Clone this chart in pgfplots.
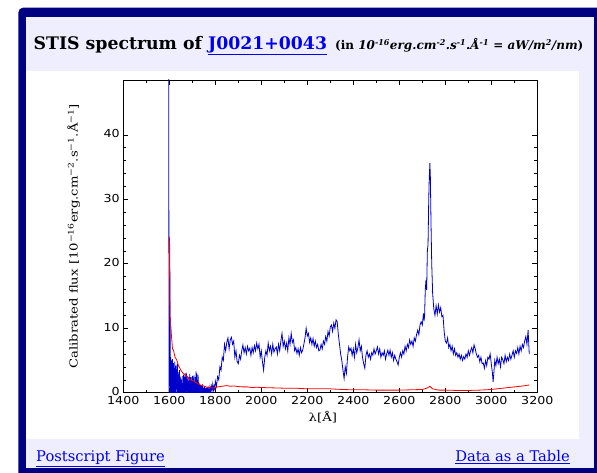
\documentclass[border=0pt]{standalone}
\usepackage{pgfplots}
\pgfplotsset{compat=1.18}
\usepackage{fontspec}
\setmainfont{DejaVu Serif}
\newfontfamily\tickfont[FakeStretch=1.15]{DejaVu Sans}
\newfontfamily\labfont[FakeStretch=1.2]{DejaVu Serif}
\definecolor{navy}{HTML}{000080}
\definecolor{lav}{HTML}{EEEEFF}
\definecolor{linkblue}{HTML}{0000EE}
\definecolor{specblue}{HTML}{0000CC}

\begin{document}
\begin{tikzpicture}
% page and frame (y measured from the bottom of the 597x472 picture)
\useasboundingbox (0pt,0pt) rectangle (597pt,472pt);
\clip (0pt,0pt) rectangle (597pt,472pt);
\fill[white] (0pt,0pt) rectangle (597pt,472pt);
\fill[navy, rounded corners=5pt] (18.3pt,-10pt) rectangle (620pt,464.4pt);
\fill[lav] (26pt,3.7pt) rectangle (594pt,455pt);
\fill[white] (26pt,33.5pt) rectangle (579pt,401pt);

% header
\node[anchor=base west, inner sep=0pt] at (33.5pt,422.5pt)
  {\fontsize{17.3}{17}\selectfont\bfseries STIS spectrum of \textcolor{linkblue}{\underline{J0021+0043}}};
\node[anchor=base west, inner sep=0pt] at (335pt,422.5pt)
  {\fontsize{12}{12}\selectfont\bfseries (in \textit{10\textsuperscript{-16}erg.cm\textsuperscript{-2}.s\textsuperscript{-1}.Å\textsuperscript{-1} = aW/m\textsuperscript{2}/nm})};

% footer links
\node[anchor=base west, inner sep=0pt, text=linkblue] at (36pt,10.5pt)
  {\fontsize{14.7}{15}\selectfont\underline{Postscript Figure}};
\node[anchor=base east, inner sep=0pt, text=linkblue] at (570pt,10.5pt)
  {\fontsize{14.7}{15}\selectfont\underline{Data as a Table}};

\begin{axis}[
    at={(123.3pt,79.3pt)}, anchor=south west,
    scale only axis, width=414pt, height=312.7pt,
    xmin=1400, xmax=3200, ymin=0, ymax=48.5,
    xtick={1400,1600,...,3200}, minor x tick num=1,
    ytick={0,10,...,40}, minor y tick num=4,
    xtick pos=both, ytick pos=both, tick align=inside,
    major tick length=5pt, minor tick length=3pt,
    axis line style={black, line width=0.8pt},
    every tick/.style={black, line width=0.6pt},
    /pgf/number format/1000 sep={},
    /pgf/number format/assume math mode=true,
    tick label style={font=\tickfont\fontsize{11}{11}\selectfont},
    xticklabel style={yshift=0pt},
    yticklabel style={yshift=1pt},
    ylabel={Calibrated flux [10\textsuperscript{−16}erg.cm\textsuperscript{−2}.s\textsuperscript{−1}.Å\textsuperscript{−1}]},
    ylabel style={at={(axis description cs:-0.12,0.5)}, anchor=center,
      font=\labfont\fontsize{11}{11}\selectfont},
    xlabel={λ[Å]},
    xlabel style={at={(axis description cs:0.482,-0.078)}, anchor=center,
      font=\labfont\fontsize{11}{11}\selectfont},
]
% flux (blue)
\addplot[specblue, line width=0.8pt] coordinates {
 (1597,60) (1599,-1) (1601,24) (1602,21) (1603,15) (1604,8) (1605,-1) (1606,5.5)
 (1607,0) (1608,4.5) (1609,-2) (1610,5) (1611,1) (1612,4.8) (1613,-1) (1614,5.2)
 (1615,0) (1616,4) (1617,-2) (1618,4.6) (1620,0.5) (1621,3.8) (1622,-1) (1624,4.8)
 (1625,0) (1626,3.5) (1628,-2) (1629,4.2) (1631,0.5) (1632,3.6) (1634,-1) (1635,4.5)
 (1637,0) (1638,3.2) (1640,-2) (1641,2.8) (1643,0) (1644,3.5) (1646,-1) (1647,2.5)
 (1649,-2) (1650,2.2) (1652,0) (1653,1.8) (1655,-1) (1656,2.6) (1658,-2) (1659,1.5)
 (1661,0) (1662,2.8) (1664,-1) (1665,2.2) (1667,0) (1668,3.0) (1670,-1) (1671,2.5)
 (1673,0.2) (1674,3.1) (1676,-1) (1677,2.0) (1679,0) (1680,2.6) (1682,-1) (1683,1.8)
 (1685,0.3) (1686,2.4) (1688,-1) (1689,2.9) (1691,0) (1692,1.7) (1694,-1) (1695,2.4)
 (1697,0) (1698,1.9) (1700,-1) (1701,2.6) (1703,0) (1704,1.8) (1706,-1) (1707,2.7)
 (1709,0.2) (1710,1.6) (1712,-1) (1713,2.4) (1715,0) (1716,3.3) (1718,-0.5) (1719,3.0)
 (1721,0) (1722,2.0) (1724,-1) (1725,2.8) (1727,0) (1728,1.6) (1730,-0.5) (1732,1.4)
 (1734,0) (1736,1.2) (1738,-0.5) (1740,1.0) (1742,0) (1744,1.3) (1746,-0.5) (1748,0.8)
 (1750,0) (1753,1.0) (1756,-1) (1759,0.8) (1762,-0.5) (1765,0.9) (1768,0) (1771,0.6)
 (1774,-0.5) (1777,0.9) (1780,0.2) (1783,1.0) (1786,0.3) (1789,1.3) (1792,0.4) (1795,1.0)
 (1798,0.5) (1800,1.8) (1805,1.0) (1810,2.5) (1815,2) (1820,4) (1825,3.5) (1830,5.5)
 (1835,5) (1840,7.5) (1845,6.5) (1850,7.8) (1855,8.5) (1860,6.8) (1865,8.2) (1870,8.6)
 (1875,7.5) (1880,8.0) (1885,5.5) (1890,6.5) (1895,4.8) (1900,4.5) (1905,5.8) (1910,5.2)
 (1915,6.5) (1920,7.4) (1925,6.2) (1930,7.0) (1935,6.0) (1940,7.2) (1945,6.5) (1950,6.9)
 (1955,5.8) (1960,7.0) (1965,6.2) (1970,7.3) (1975,6.5) (1980,7.7) (1985,6.8) (1990,7.5)
 (1995,5.5) (2000,6.5) (2005,4.8) (2010,3.5) (2015,5.5) (2020,6.5) (2025,5.8) (2030,7.7)
 (2035,6.5) (2040,7.2) (2045,6.0) (2050,7.5) (2055,6.3) (2060,6.8) (2065,7.1) (2070,6.0)
 (2075,7.5) (2080,6.5) (2085,8.0) (2090,9.2) (2095,7.2) (2100,8.0) (2105,6.8) (2110,7.7)
 (2115,6.5) (2120,8.5) (2125,7.5) (2130,9.2) (2135,7.8) (2140,8.2) (2145,6.5) (2150,7.0)
 (2155,6.1) (2160,6.8) (2165,5.8) (2170,7.0) (2175,6.2) (2180,6.6) (2185,7.5) (2190,8.5)
 (2195,10.0) (2200,8.8) (2205,9.2) (2210,7.8) (2215,8.5) (2220,7.5) (2225,8.4) (2230,7.2)
 (2235,8.0) (2240,7.0) (2245,7.5) (2250,6.5) (2255,6.6) (2260,7.5) (2265,6.8) (2270,8.0)
 (2275,7.5) (2280,8.7) (2285,8.0) (2290,9.5) (2295,8.8) (2300,10.2) (2305,10.5) (2310,9.5)
 (2315,10.8) (2320,10.0) (2325,11.3) (2330,11.0) (2335,9.0) (2340,7.5) (2345,6.0) (2350,5.0)
 (2355,3.5) (2360,2.2) (2365,4.0) (2370,3.0) (2375,5.5) (2380,7.1) (2385,6.5) (2390,6.9)
 (2395,5.8) (2400,6.8) (2405,5.5) (2410,7.5) (2415,6.2) (2420,7.0) (2425,8.2) (2430,6.5)
 (2435,7.2) (2440,5.5) (2445,4.5) (2450,3.8) (2455,5.8) (2460,6.5) (2465,5.5) (2470,6.0)
 (2475,5.2) (2480,6.2) (2485,5.8) (2490,6.8) (2495,6.0) (2500,6.5) (2505,7.1) (2510,6.0)
 (2515,6.8) (2520,5.5) (2525,6.2) (2530,5.8) (2535,6.5) (2540,5.2) (2545,6.0) (2550,6.6)
 (2555,5.8) (2560,6.6) (2565,5.5) (2570,6.2) (2575,5.0) (2580,5.8) (2585,5.2) (2590,4.8)
 (2595,4.3) (2600,5.5) (2605,6.2) (2610,5.5) (2615,6.5) (2620,6.0) (2625,7.2) (2630,6.5)
 (2635,7.5) (2640,7.0) (2645,8.2) (2650,7.5) (2655,8.0) (2660,7.2) (2665,8.5) (2670,8.0)
 (2675,9.0) (2680,9.7) (2685,9.0) (2690,10.5) (2695,11.0) (2700,10.5) (2705,12.3) (2708,11.2)
 (2710,12.0) (2713,16.0) (2716,17.5) (2719,15.9) (2722,22.0) (2725,23.0) (2728,30.0) (2730,33.0)
 (2733,35.6) (2735,33.5) (2738,26.0) (2741,20.0) (2745,15.4) (2750,13.0) (2755,12.0) (2760,13.5)
 (2765,12.2) (2770,13.6) (2775,12.5) (2780,13.2) (2785,11.8) (2790,12.0) (2795,9.5) (2800,8.0)
 (2805,7.7) (2810,8.5) (2815,7.0) (2820,7.5) (2825,6.5) (2830,7.2) (2835,6.0) (2840,6.8)
 (2845,5.8) (2850,6.2) (2855,5.5) (2860,6.0) (2865,5.2) (2870,5.8) (2875,5.0) (2880,5.6)
 (2885,5.2) (2890,6.0) (2895,5.5) (2900,6.5) (2905,5.8) (2910,6.5) (2915,7.0) (2920,6.2)
 (2925,7.4) (2930,6.8) (2935,6.0) (2940,5.5) (2945,5.8) (2950,4.8) (2955,5.5) (2960,4.5)
 (2965,4.6) (2970,3.8) (2975,5.0) (2980,4.2) (2985,5.5) (2990,5.2) (2995,6.0) (3000,4.5)
 (3005,3.0) (3008,1.7) (3012,3.5) (3015,5.0) (3020,4.2) (3025,5.5) (3030,4.5) (3035,5.2)
 (3040,4.0) (3045,5.5) (3050,5.1) (3055,4.5) (3060,5.8) (3065,4.8) (3070,5.5) (3075,5.0)
 (3080,6.0) (3085,5.2) (3090,5.8) (3095,6.5) (3100,5.5) (3105,6.5) (3110,6.1) (3115,7.0)
 (3120,6.0) (3125,7.2) (3130,6.5) (3135,7.5) (3140,7.0) (3145,8.0) (3150,8.7) (3155,7.5)
 (3160,9.7) (3165,6.0)
};
% error (red), drawn over the flux
\addplot[red, line width=0.8pt] coordinates {
 (1600,24.2) (1601,21) (1602,15) (1604,10.5) (1607,10.2) (1610,8.5) (1614,6.8)
 (1618,6.6) (1625,5.5) (1632,5.1) (1640,4.2) (1650,3.5) (1660,3.0) (1668,2.8)
 (1676,2.5) (1690,2.0) (1700,1.9) (1710,1.7) (1720,1.5) (1733,1.2) (1745,1.1)
 (1760,0.9) (1775,0.8) (1791,0.7) (1800,0.8) (1810,0.9) (1830,1.0) (1849,1.1)
 (1865,1.0) (1880,1.05) (1900,0.95) (1920,0.9) (1940,0.9) (1960,0.8) (1980,0.85)
 (2000,0.8) (2050,0.75) (2100,0.7) (2150,0.7) (2200,0.6) (2250,0.6) (2300,0.6)
 (2350,0.5) (2400,0.45) (2450,0.45) (2500,0.4) (2550,0.4) (2600,0.4) (2650,0.45)
 (2700,0.5) (2720,0.7) (2733,1.0) (2745,0.6) (2770,0.4) (2800,0.4) (2850,0.35)
 (2900,0.35) (2950,0.4) (3000,0.5) (3025,0.6) (3050,0.7) (3075,0.8) (3100,0.9)
 (3125,1.0) (3150,1.1) (3165,1.2)
};
\end{axis}
\end{tikzpicture}
\end{document}
